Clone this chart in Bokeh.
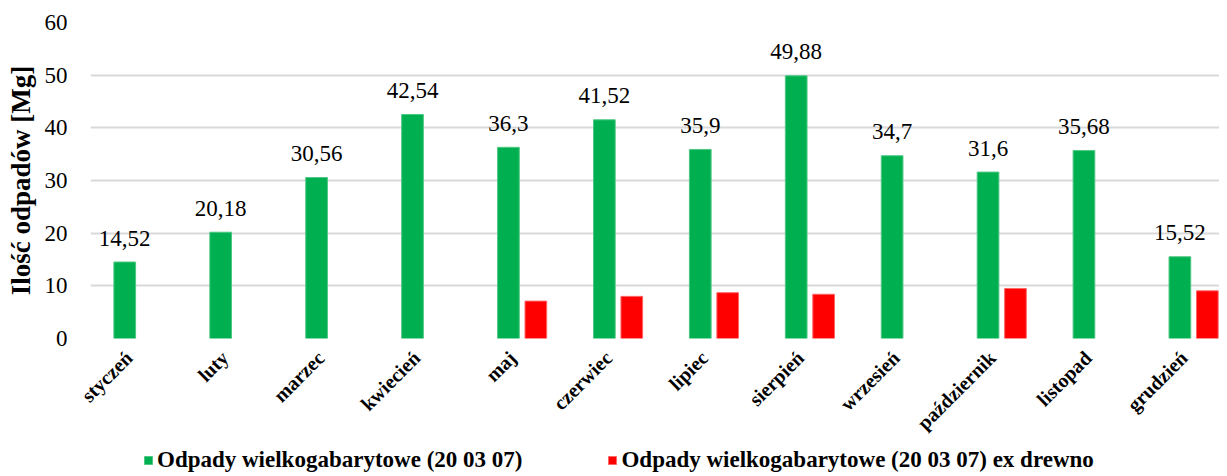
import math
from bokeh.plotting import figure
from bokeh.layouts import column
from bokeh.models import ColumnDataSource, Range1d, FixedTicker, Legend, LegendItem
from bokeh.transform import dodge
from bokeh.core.properties import value
from bokeh.embed import file_html
from bokeh.resources import INLINE

months = ["styczeń", "luty", "marzec", "kwiecień", "maj", "czerwiec", "lipiec",
          "sierpień", "wrzesień", "październik", "listopad", "grudzień"]
green_vals = [14.52, 20.18, 30.56, 42.54, 36.3, 41.52, 35.9, 49.88, 34.7, 31.6, 35.68, 15.52]
red_vals = [None, None, None, None, 7.1, 8.0, 8.7, 8.4, None, 9.5, None, 9.05]
series_names = ["Odpady wielkogabarytowe (20 03 07)",
                "Odpady wielkogabarytowe (20 03 07) ex drewno"]
y_ticks = [0, 10, 20, 30, 40, 50, 60]

GREEN = "#00B050"
RED = "#FF0000"
SERIF = "'Times New Roman', 'Liberation Serif', serif"

idx = list(range(len(months)))
g_src = ColumnDataSource(dict(
    idx=idx, val=green_vals,
    lbl=[str(v).replace(".", ",") for v in green_vals]))
r_idx = [i for i, v in zip(idx, red_vals) if v is not None]
r_src = ColumnDataSource(dict(idx=r_idx, val=[red_vals[i] for i in r_idx]))

W = 1219
p = figure(width=W, height=446, output_backend="svg", toolbar_location=None,
           x_range=Range1d(-0.5, 11.27), y_range=Range1d(0, 60),
           min_border_left=90, min_border_right=0, min_border_top=22,
           min_border_bottom=108)
p.outline_line_color = None

bw = 0.226
off = 0.143
green_style = dict(fill_color=GREEN, line_color="#4cc882", line_width=1)
red_style = dict(fill_color=RED, line_color="#ff6666", line_width=1)
p.vbar(x=dodge("idx", -off), top="val", width=bw, bottom=0, source=g_src, **green_style)
p.vbar(x=dodge("idx", off), top="val", width=bw, bottom=0, source=r_src, **red_style)

p.text(x=dodge("idx", -off), y="val", text="lbl", source=g_src,
       text_font=value(SERIF), text_font_size="23px", text_color="#000000",
       text_align="center", text_baseline="alphabetic", y_offset=-24)

# y axis
p.yaxis.ticker = FixedTicker(ticks=y_ticks)
p.yaxis.axis_line_color = None
p.yaxis.major_tick_line_color = None
p.yaxis.minor_tick_line_color = None
p.yaxis.major_label_text_font = SERIF
p.yaxis.major_label_text_font_size = "23px"
p.yaxis.major_label_text_color = "#000000"
p.yaxis.major_label_standoff = 17
p.yaxis.axis_label = "Ilość odpadów [Mg]"
p.yaxis.axis_label_text_font = SERIF
p.yaxis.axis_label_text_font_size = "27px"
p.yaxis.axis_label_text_font_style = "bold"
p.yaxis.axis_label_text_color = "#000000"
p.yaxis.axis_label_standoff = 6

# x axis: month names, anchored slightly left of each group centre (like the original)
label_shift = -0.1
month_ticks = [i + label_shift for i in idx]
p.xaxis.ticker = FixedTicker(ticks=month_ticks)
p.xaxis.major_label_overrides = {t: m for t, m in zip(month_ticks, months)}
p.xaxis.major_label_orientation = math.pi / 4
p.xaxis.axis_line_color = None
p.xaxis.major_tick_line_color = None
p.xaxis.minor_tick_line_color = None
p.xaxis.major_label_text_font = SERIF
p.xaxis.major_label_text_font_size = "20px"
p.xaxis.major_label_text_font_style = "bold"
p.xaxis.major_label_text_color = "#000000"
p.xaxis.major_label_standoff = 10

p.xgrid.grid_line_color = None
p.ygrid.grid_line_color = "#d9d9d9"
p.ygrid.grid_line_width = 2

# legend strip below the chart (swatches from hidden copies of the series glyphs)
lg = figure(width=W, height=27, output_backend="svg", toolbar_location=None,
            x_axis_type=None, y_axis_type=None, min_border=0)
lg.outline_line_color = None
lg.xgrid.grid_line_color = None
lg.ygrid.grid_line_color = None
lr_g = lg.vbar(x="idx", top="val", width=bw, source=g_src, visible=False, **green_style)
lr_r = lg.vbar(x="idx", top="val", width=bw, source=r_src, visible=False, **red_style)
legend = Legend(items=[LegendItem(label=series_names[0], renderers=[lr_g]),
                       LegendItem(label=series_names[1], renderers=[lr_r])],
                orientation="horizontal", location=(53, 0),
                label_text_font=SERIF, label_text_font_size="23px",
                label_text_font_style="bold", label_text_color="#000000",
                glyph_width=10, glyph_height=10, label_standoff=4, spacing=85,
                border_line_color=None, background_fill_alpha=0,
                inactive_fill_alpha=0, padding=0, margin=0)
lg.add_layout(legend, "center")

layout = column(p, lg, spacing=0)
open("out.html", "w").write(file_html(layout, INLINE))
